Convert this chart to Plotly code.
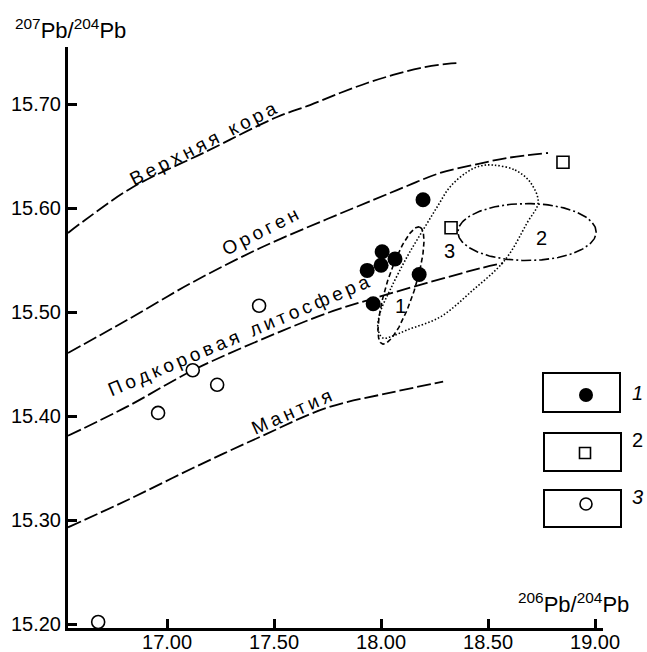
import numpy as np
import plotly.graph_objects as go

# ---- data ----
group1_x = [18.196, 18.005, 17.935, 18.000, 18.065, 18.178, 17.963]
group1_y = [15.608, 15.558, 15.540, 15.545, 15.551, 15.536, 15.508]
group2_x = [18.327, 18.850]
group2_y = [15.581, 15.644]
group3_x = [17.430, 17.120, 17.234, 16.958, 16.678]
group3_y = [15.506, 15.444, 15.430, 15.403, 15.202]

crust_x = [16.537, 16.617, 16.841, 17.178, 17.514, 17.668, 17.808, 17.935, 18.056, 18.182, 18.308, 18.369]
crust_y = [15.576, 15.5885, 15.6202, 15.6538, 15.6875, 15.699, 15.7106, 15.7202, 15.7279, 15.7346, 15.7385, 15.7394]
orogen_x = [16.537, 16.813, 17.121, 17.435, 17.748, 17.963, 18.121, 18.276, 18.430, 18.589, 18.780]
orogen_y = [15.4606, 15.4923, 15.5288, 15.5615, 15.5894, 15.6077, 15.6212, 15.6337, 15.6413, 15.6481, 15.6529]
litho_x = [16.537, 16.813, 17.121, 17.435, 17.748, 17.981, 18.215, 18.463, 18.570]
litho_y = [15.381, 15.409, 15.444, 15.473, 15.499, 15.514, 15.528, 15.542, 15.547]
mantle_x = [16.537, 16.813, 17.121, 17.435, 17.748, 18.056, 18.290]
mantle_y = [15.293, 15.319, 15.350, 15.380, 15.408, 15.423, 15.433]

# fields 1 and 2: centre, end of first half-axis, end of second half-axis
field1 = dict(c=(18.093, 15.5255), a=(18.180, 15.5817), b=(18.156, 15.5214))
field2 = dict(c=(18.682, 15.5769), a=(19.005, 15.5769), b=(18.682, 15.6043))
# field 3: traced outline
field3_x = [18.523, 18.626, 18.696, 18.734, 18.682, 18.579, 18.430, 18.276, 18.121, 18.042, 18.009, 17.986, 17.995, 18.042, 18.121, 18.196, 18.262, 18.322, 18.402, 18.463, 18.523]
field3_y = [15.6413, 15.6365, 15.6250, 15.6058, 15.5856, 15.5500, 15.5212, 15.4952, 15.4827, 15.4760, 15.4750, 15.4827, 15.4990, 15.5212, 15.5529, 15.5788, 15.6010, 15.6202, 15.6346, 15.6404, 15.6413]

curve_names = ["Верхняя кора", "Ороген", "Подкоровая литосфера", "Мантия"]
curve_label_x = [17.168, 17.435, 17.336, 17.584]
curve_label_y = [15.6625, 15.577, 15.477, 15.404]
curve_label_angle = [-27, -27, -23, -24]

field_labels = ["1", "2", "3"]
field_label_x = [18.089, 18.748, 18.318]
field_label_y = [15.5058, 15.5712, 15.5587]

x_ticks = [17.0, 17.5, 18.0, 18.5, 19.0]
y_ticks = [15.2, 15.3, 15.4, 15.5, 15.6, 15.7]

FONT = "Liberation Sans, Arial, sans-serif"
W, H = 647, 652
ML, MR, MT, MB = 68, 44, 47, 24
PW, PH = W - ML - MR, H - MT - MB


def px(x):
    return (x - ML) / PW


def py(y):
    return (H - MB - y) / PH


def ellipse(e, n=200):
    t = np.linspace(0, 2 * np.pi, n)
    cx, cy = e["c"]
    ax, ay = e["a"]
    bx, by = e["b"]
    xs = cx + (ax - cx) * np.cos(t) + (bx - cx) * np.sin(t)
    ys = cy + (ay - cy) * np.cos(t) + (by - cy) * np.sin(t)
    return xs, ys


fig = go.Figure()

for xs, ys in [(crust_x, crust_y), (orogen_x, orogen_y), (litho_x, litho_y), (mantle_x, mantle_y)]:
    fig.add_trace(go.Scatter(x=xs, y=ys, mode="lines",
                             line=dict(color="black", width=1.8, dash="14px,4px", shape="spline", smoothing=1.0),
                             hoverinfo="skip", showlegend=False))

f1x, f1y = ellipse(field1)
f2x, f2y = ellipse(field2)
fig.add_trace(go.Scatter(x=f1x, y=f1y, mode="lines", line=dict(color="black", width=1.6, dash="5px,3px"),
                         hoverinfo="skip", showlegend=False))
fig.add_trace(go.Scatter(x=f2x, y=f2y, mode="lines", line=dict(color="black", width=1.6, dash="10px,3px,2px,3px"),
                         hoverinfo="skip", showlegend=False))
fig.add_trace(go.Scatter(x=field3_x, y=field3_y, mode="lines",
                         line=dict(color="black", width=1.6, dash="1.5px,2px", shape="spline", smoothing=1.0),
                         hoverinfo="skip", showlegend=False))

fig.add_trace(go.Scatter(x=group1_x, y=group1_y, mode="markers",
                         marker=dict(symbol="circle", size=15, color="black", line=dict(width=0)),
                         showlegend=False, cliponaxis=False))
fig.add_trace(go.Scatter(x=group2_x, y=group2_y, mode="markers",
                         marker=dict(symbol="square-open", size=12, color="black", line=dict(width=1.6)),
                         showlegend=False, cliponaxis=False))
fig.add_trace(go.Scatter(x=group3_x, y=group3_y, mode="markers",
                         marker=dict(symbol="circle", size=13, color="white", line=dict(width=1.6, color="black")),
                         showlegend=False, cliponaxis=False))

annotations = []
for name, x, y, ang in zip(curve_names, curve_label_x, curve_label_y, curve_label_angle):
    spaced = "\u2009".join(list(name.replace(" ", "\u00a0")))
    annotations.append(dict(x=x, y=y, xref="x", yref="y", text=spaced, showarrow=False, textangle=ang,
                            font=dict(family=FONT, size=19, color="black")))
for t, x, y in zip(field_labels, field_label_x, field_label_y):
    annotations.append(dict(x=x, y=y, xref="x", yref="y", text=t, showarrow=False,
                            font=dict(family=FONT, size=20, color="black")))

annotations.append(dict(x=px(13), y=py(45), xref="paper", yref="paper", xanchor="left", yanchor="bottom",
                        text="<sup>207</sup>Pb/<sup>204</sup>Pb", showarrow=False,
                        font=dict(family=FONT, size=22, color="black")))
annotations.append(dict(x=px(516), y=py(619), xref="paper", yref="paper", xanchor="left", yanchor="bottom",
                        text="<sup>206</sup>Pb/<sup>204</sup>Pb", showarrow=False,
                        font=dict(family=FONT, size=22, color="black")))

shapes = []
boxes = [(543, 373, 620, 412), (544, 433, 621, 471), (544, 490, 621, 527)]
for x0, y0, x1, y1 in boxes:
    shapes.append(dict(type="rect", xref="paper", yref="paper", x0=px(x0), x1=px(x1), y0=py(y1), y1=py(y0),
                       line=dict(color="black", width=2), fillcolor="white", layer="above"))
shapes.append(dict(type="circle", xref="paper", yref="paper", xsizemode="pixel", ysizemode="pixel",
                   xanchor=px(586), yanchor=py(395), x0=-7, x1=7, y0=-7, y1=7,
                   line=dict(color="black", width=0), fillcolor="black", layer="above"))
shapes.append(dict(type="rect", xref="paper", yref="paper", xsizemode="pixel", ysizemode="pixel",
                   xanchor=px(585), yanchor=py(453), x0=-5.5, x1=5.5, y0=-5.5, y1=5.5,
                   line=dict(color="black", width=1.6), fillcolor="white", layer="above"))
shapes.append(dict(type="circle", xref="paper", yref="paper", xsizemode="pixel", ysizemode="pixel",
                   xanchor=px(586), yanchor=py(504), x0=-6, x1=6, y0=-6, y1=6,
                   line=dict(color="black", width=1.6), fillcolor="white", layer="above"))
legend_text = ["<i>1</i>", "2", "<i>3</i>"]
legend_ty = [393, 453, 510]
for t, ty in zip(legend_text, legend_ty):
    annotations.append(dict(x=px(630), y=py(ty), xref="paper", yref="paper", xanchor="left", text=t,
                            showarrow=False, font=dict(family=FONT, size=20, color="black")))

axis_common = dict(showgrid=False, zeroline=False, showline=True, linecolor="black", linewidth=3,
                   ticks="inside", ticklen=9, tickwidth=3, tickcolor="black",
                   tickfont=dict(family=FONT, size=20, color="black"), tickformat=".2f")

fig.update_layout(
    width=W, height=H,
    margin=dict(l=ML, r=MR, t=MT, b=MB, autoexpand=False),
    paper_bgcolor="white", plot_bgcolor="white",
    xaxis=dict(range=[16.537, 19.037], tickvals=x_ticks, ticklabelstandoff=-6, **axis_common),
    yaxis=dict(range=[15.1962, 15.7548], tickvals=y_ticks, **axis_common),
    annotations=annotations, shapes=shapes, showlegend=False,
)

fig.write_html("out.html", config={"displayModeBar": False},
               post_script="document.body.style.margin='0';")
